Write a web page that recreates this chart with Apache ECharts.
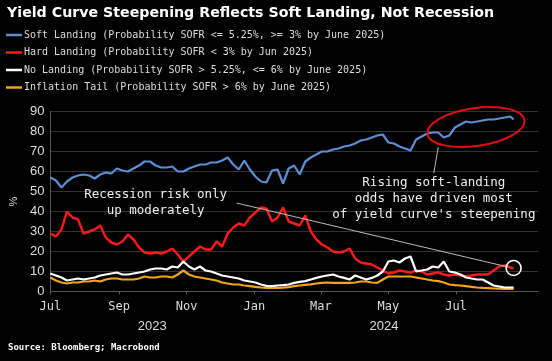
<!DOCTYPE html>
<html>
<head>
<meta charset="utf-8">
<script src="https://cdn.jsdelivr.net/npm/echarts@6/dist/echarts.min.js"></script>
<style>html,body{margin:0;padding:0;background:#000;}#c{width:552px;height:361px;}</style>
</head>
<body>
<div id="c"></div>
<script>
// day offsets from 2023-07-01, sampled every 5 days
const dayOffsets = [0,5,10,15,20,25,30,35,40,45,50,55,60,65,70,75,80,85,90,95,100,105,110,115,120,125,130,135,140,145,150,155,160,165,170,175,180,185,190,195,200,205,210,215,220,225,230,235,240,245,250,255,260,265,270,275,280,285,290,295,300,305,310,315,320,325,330,335,340,345,350,355,360,365,370,375,380,385,390,395,400,405,410,415,418];
const softLanding = [57,55.5,52,55,57,58,58.5,58,56.5,58.5,59.5,59,61.5,60.5,60,61.5,63,65,65,63,62,62,62.5,60,60,61.5,62.5,63.5,63.5,64.5,64.5,65.5,67,63.5,61,65.5,61,57.5,55,54.5,60.5,61,54,61.5,63,58.5,65,67,68.5,70,70,71,71.5,72.5,73,74,75.5,76,77,78,78.5,74.5,74,72.5,71.5,70.5,76,77.5,79,79.5,79.5,77,78,82,83.5,85,84.5,85,85.5,86,86,86.5,87,87.5,86];
const hardLanding = [29,27.5,31,40,37,36,29,30,31,33,27,24.5,23.5,25,28.5,26,22,19.5,19,19.5,19,20,21.5,18.5,15,17.5,20,22.5,21,21,25,22.5,29,32,34,33,37,39.5,42,41.5,35,37,42,35,34,33,38,30,26,23.5,22,20,19.5,20,21.5,16.5,14.5,14,13.5,12,10.5,9,9.5,10.5,10,9.5,10.5,10,8.5,9,9.5,8.5,8,8.5,8,7.7,8,8.5,8.5,8.5,10.5,12.5,13,12,11.5];
const noLanding = [9,8,7,5.5,6,6.5,6,6.5,7,8,8.5,9,9.5,8.5,8.5,9,9.5,10,11,11.5,11.5,11,12.5,12,15,12.5,11,12.5,10.5,10,9,8,7.5,7,6.5,5.5,5,4.5,3.5,2.8,2.7,3,3.2,3.5,4.3,4.8,5.2,6,6.8,7.5,8,8.5,7.5,6.8,6,8,7,6,6.8,8,10,15,15.5,14.5,16.5,17.5,10,10.5,11,12.5,12,15,10,9.5,8.5,7,6.5,6,6,4.5,3,2.5,2,2,2];
const inflationTail = [7,5.5,4.5,4,4.5,4.5,5,5,5.5,5,6,6.5,6.5,6,6,6,6.5,7.5,7,7,7.5,7.5,7,8.5,10.5,8.5,7.5,7,6.5,6,5.5,4.5,4,3.5,3.5,3,2.7,2.3,2,1.8,1.8,1.8,1.9,2.2,2.7,3,3.3,3.6,4,4.3,4.5,4.3,4.3,4.3,4.3,4.5,5,5,4.5,4.3,6,7.5,7.5,7.5,7.5,7.5,7,6.5,6,5.5,5.2,4.5,3.5,3.2,3,2.7,2.3,2,1.8,1.7,1.5,1.4,1.3,1.3,1.3];
const seriesNames = [
  'Soft Landing (Probability SOFR <= 5.25%, >= 3% by June 2025)',
  'Hard Landing (Probability SOFR < 3% by Jun 2025)',
  'No Landing (Probability SOFR > 5.25%, <= 6% by June 2025)',
  'Inflation Tail (Probability SOFR > 6% by June 2025)'
];
const monthTicks = ['2023-07-01','2023-09-01','2023-11-01','2024-01-01','2024-03-01','2024-05-01','2024-07-01'];
const monthNames = ['Jan','Feb','Mar','Apr','May','Jun','Jul','Aug','Sep','Oct','Nov','Dec'];
const yearLabelDates = ['2023-10-01','2024-04-27'];

const START = Date.UTC(2023,6,1), DAY = 86400000;
function dOff(s){const p=s.split('-').map(Number);return Math.round((Date.UTC(p[0],p[1]-1,p[2])-START)/DAY);}
function offDate(d){return new Date(START+d*DAY);}
function pairs(vals){return vals.map((v,i)=>[dayOffsets[i],v]);}

const xMin = 0, xMax = 440;
const colors = ['#5b8fd4','#ff1a1a','#ffffff','#f2a516'];
const mono = 'DejaVu Sans Mono';
const lastIdx = dayOffsets.length-1;

const chart = echarts.init(document.getElementById('c'), null, {renderer:'canvas'});
const option = {
  backgroundColor:'#000',
  animation:false,
  title:[
    {text:'Yield Curve Steepening Reflects Soft Landing, Not Recession',left:7,top:6,padding:0,
     textStyle:{color:'#fff',fontSize:14.2,fontWeight:'bold',fontFamily:'DejaVu Sans'}},
    {text:'Source: Bloomberg; Macrobond',left:8,top:343,padding:0,
     textStyle:{color:'#fff',fontSize:9,fontWeight:'bold',fontFamily:mono}}
  ],
  legend:{
    orient:'vertical',left:6,top:29,padding:0,itemWidth:16,itemHeight:2.5,itemGap:5.5,icon:'rect',
    textStyle:{color:'#ddd',fontSize:10,fontFamily:mono,lineHeight:12,padding:[0,0,0,-3]},
    data:seriesNames
  },
  grid:{left:41.5,right:14,top:111.5,bottom:69.5},
  xAxis:[
    {type:'value',min:xMin,max:xMax,
     axisLine:{show:true,onZero:false,lineStyle:{color:'#555'}},
     axisTick:{show:true,length:3,lineStyle:{color:'#555'},customValues:monthTicks.map(dOff)},
     splitLine:{show:false},
     axisLabel:{color:'#ddd',fontSize:12,fontFamily:mono,margin:9,customValues:monthTicks.map(dOff),
       formatter:v=>monthNames[offDate(v).getUTCMonth()]}},
    {type:'value',min:xMin,max:xMax,position:'bottom',offset:19,gridIndex:0,
     axisLine:{show:false},axisTick:{show:false},splitLine:{show:false},
     axisLabel:{color:'#ddd',fontSize:13,fontFamily:'Liberation Sans',margin:9,customValues:yearLabelDates.map(dOff),
       formatter:v=>String(offDate(v).getUTCFullYear())}}
  ],
  yAxis:{type:'value',min:0,max:90,interval:10,
    name:'%',nameLocation:'middle',nameGap:28,nameRotate:90,
    nameTextStyle:{color:'#ddd',fontSize:11},
    axisLine:{show:true,lineStyle:{color:'#555'}},axisTick:{show:false},
    splitLine:{show:true,lineStyle:{color:'#333',width:1}},
    axisLabel:{color:'#ddd',fontSize:13,fontFamily:'Liberation Sans',margin:6}},
  series:[
    {name:seriesNames[0],type:'line',data:pairs(softLanding),showSymbol:false,color:colors[0],
     lineStyle:{width:2.2},z:3,
     markLine:{silent:true,symbol:['none','none'],label:{show:false},
       lineStyle:{color:'#bbb',width:1,type:'solid'},
       data:[[{coord:[dOff('2024-06-11'),59.25]},{coord:[dOff('2024-06-15'),72.25]}]]},
     markPoint:{silent:true,symbol:'rect',symbolSize:1,itemStyle:{color:'transparent'},
       label:{show:true,position:'inside',color:'#eee',fontSize:12.5,fontFamily:mono,lineHeight:16,align:'center',
         formatter:"Rising soft-landing\nodds have driven most\nof yield curve's steepening"},
       data:[{coord:[dOff('2024-06-11'),46.5]}]}},
    {name:seriesNames[1],type:'line',data:pairs(hardLanding),showSymbol:false,color:colors[1],
     lineStyle:{width:2.4},z:4,
     markLine:{silent:true,symbol:['none','none'],label:{show:false},
       lineStyle:{color:'#bbb',width:1,type:'solid'},
       data:[[{coord:[dOff('2023-12-16'),44.25]},{coord:[dOff('2024-08-17'),12.25]}]]},
     markPoint:{silent:true,data:[
       {coord:[dayOffsets[lastIdx],hardLanding[lastIdx]+0.25],symbol:'circle',symbolSize:15,
        itemStyle:{color:'transparent',borderColor:'#fff',borderWidth:1.6},label:{show:false}},
       {coord:[dOff('2023-10-04'),44.25],symbol:'rect',symbolSize:1,itemStyle:{color:'transparent'},
        label:{show:true,position:'inside',color:'#eee',fontSize:12.5,fontFamily:mono,lineHeight:16,align:'center',
          formatter:'Recession risk only\nup moderately'}}
     ]}},
    {name:seriesNames[2],type:'line',data:pairs(noLanding),showSymbol:false,color:colors[2],
     lineStyle:{width:2.2},z:5},
    {name:seriesNames[3],type:'line',data:pairs(inflationTail),showSymbol:false,color:colors[3],
     lineStyle:{width:2.2},z:2}
  ]
};
chart.setOption(option);
const ec = chart.convertToPixel({xAxisIndex:0,yAxisIndex:0},[dOff('2024-07-19'),82.25]);
chart.setOption({graphic:[{type:'ellipse',x:ec[0],y:ec[1],rotation:0.14,silent:true,z:10,
  shape:{cx:0,cy:0,rx:49,ry:19},style:{fill:'none',stroke:'#e01010',lineWidth:2}}]});
</script>
</body>
</html>
